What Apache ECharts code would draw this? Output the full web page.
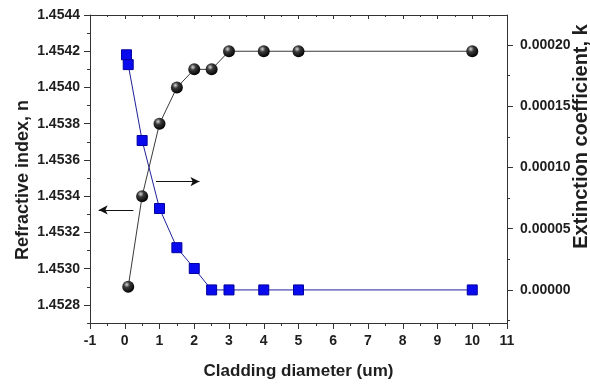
<!DOCTYPE html>
<html>
<head>
<meta charset="utf-8">
<script src="https://cdn.jsdelivr.net/npm/echarts@6/dist/echarts.min.js"></script>
<style>
html,body{margin:0;padding:0;background:#fff;}
#c{width:590px;height:386px;}
</style>
</head>
<body>
<div id="c"></div>
<script>
// Data
var nX = [0.1, 0.5, 1, 1.5, 2, 2.5, 3, 4, 5, 10];
var nValues = [1.4529, 1.4534, 1.4538, 1.4540, 1.4541, 1.4541, 1.4542, 1.4542, 1.4542, 1.4542];
var kX = [0.05, 0.1, 0.5, 1, 1.5, 2, 2.5, 3, 4, 5, 10];
var kValues = [0.000192, 0.000184, 0.000122, 0.0000665, 0.0000345, 0.0000175, 0, 0, 0, 0, 0];
var nTicks = [1.4528, 1.4530, 1.4532, 1.4534, 1.4536, 1.4538, 1.4540, 1.4542, 1.4544];
var nMinorTicks = [1.4527, 1.4529, 1.4531, 1.4533, 1.4535, 1.4537, 1.4539, 1.4541, 1.4543];
var kTicks = [0, 0.00005, 0.00010, 0.00015, 0.00020];
var kMinorTicks = [-0.000025, 0.000025, 0.000075, 0.000125, 0.000175];
var nArrow = [[0.25, 1.453324], [-0.75, 1.453324]];
var kArrow = [[0.9, 0.0000885], [2.15, 0.0000885]];

var FONT = 'Liberation Sans, Arial, sans-serif';
var TXT = '#1e1e1e';
var AX = '#333';

var chart = echarts.init(document.getElementById('c'));
var lblStyle = {color: TXT, fontFamily: FONT, fontWeight: 'bold', fontSize: 14};

function zip(a, b){ return a.map(function(v, i){ return [v, b[i]]; }); }

var option = {
  animation: false,
  backgroundColor: '#fff',
  grid: {left: 90, right: 83, top: 15, bottom: 63, containLabel: false, outerBoundsMode: 'none'},
  xAxis: [
    {
      type: 'value', position: 'bottom', min: -1, max: 11, interval: 1,
      name: 'Cladding diameter (um)', nameLocation: 'middle', nameGap: 40, nameMoveOverlap: false,
      nameTextStyle: {color: TXT, fontFamily: FONT, fontWeight: 'bold', fontSize: 17},
      axisLine: {show: true, onZero: false, lineStyle: {color: AX, width: 1}},
      axisTick: {show: true, inside: false, length: 6, lineStyle: {color: AX}},
      minorTick: {show: true, splitNumber: 2, length: 3, lineStyle: {color: AX}},
      axisLabel: Object.assign({margin: 11}, lblStyle),
      splitLine: {show: false}
    },
    {
      type: 'value', position: 'top', min: -1, max: 11, interval: 1,
      axisLine: {show: true, onZero: false, lineStyle: {color: AX, width: 1}},
      axisTick: {show: true, inside: true, length: 4, lineStyle: {color: AX}},
      minorTick: {show: true, splitNumber: 2, length: 2, lineStyle: {color: AX}},
      axisLabel: {show: false},
      splitLine: {show: false}
    }
  ],
  yAxis: [
    {
      type: 'value', position: 'left', min: 1.4527, max: 1.4544,
      name: 'Refractive index, n', nameLocation: 'middle', nameGap: 58, nameMoveOverlap: false,
      nameTextStyle: {color: TXT, fontFamily: FONT, fontWeight: 'bold', fontSize: 18, padding: [0, 22, 0, 0]},
      axisLine: {show: true, onZero: false, lineStyle: {color: AX, width: 1}},
      axisTick: {show: true, length: 6, customValues: nTicks, lineStyle: {color: AX}},
      axisLabel: Object.assign({customValues: nTicks, margin: 10, formatter: function(v){ return v.toFixed(4); }}, lblStyle),
      splitLine: {show: false}
    },
    {
      type: 'value', position: 'right', min: -0.000027, max: 0.0002245,
      name: 'Extinction coefficient, k', nameLocation: 'middle', nameGap: 64, nameMoveOverlap: false,
      nameTextStyle: {color: TXT, fontFamily: FONT, fontWeight: 'bold', fontSize: 20, padding: [0, 0, 0, 65]},
      axisLine: {show: true, onZero: false, lineStyle: {color: AX, width: 1}},
      axisTick: {show: true, length: 6, customValues: kTicks, lineStyle: {color: AX}},
      axisLabel: Object.assign({customValues: kTicks, margin: 13, formatter: function(v){ return v.toFixed(5); }}, lblStyle),
      splitLine: {show: false}
    },
    {
      type: 'value', position: 'left', min: 1.4527, max: 1.4544,
      axisLine: {show: false, onZero: false},
      axisTick: {show: true, length: 3, customValues: nMinorTicks, lineStyle: {color: AX}},
      axisLabel: {show: false},
      splitLine: {show: false}
    },
    {
      type: 'value', position: 'right', min: -0.000027, max: 0.0002245,
      axisLine: {show: false, onZero: false},
      axisTick: {show: true, length: 3, customValues: kMinorTicks, lineStyle: {color: AX}},
      axisLabel: {show: false},
      splitLine: {show: false}
    }
  ],
  series: [
    {
      type: 'line', name: 'n', xAxisIndex: 0, yAxisIndex: 0,
      data: zip(nX, nValues),
      symbol: 'circle', symbolSize: 12,
      lineStyle: {color: '#3a3a3a', width: 1},
      itemStyle: {
        color: new echarts.graphic.RadialGradient(0.38, 0.32, 0.7, [
          {offset: 0, color: '#d8d8d8'},
          {offset: 0.35, color: '#3a3a3a'},
          {offset: 1, color: '#000'}
        ]),
        borderWidth: 0
      },
      z: 3,
      markLine: {
        silent: true, symbol: ['none', 'arrow'], symbolSize: [7, 9],
        label: {show: false},
        lineStyle: {color: '#111', width: 1, type: 'solid'},
        data: [[{coord: nArrow[0]}, {coord: nArrow[1]}]]
      }
    },
    {
      type: 'line', name: 'k', xAxisIndex: 0, yAxisIndex: 1,
      data: zip(kX, kValues),
      symbol: 'rect', symbolSize: 10,
      lineStyle: {color: '#20209a', width: 1},
      itemStyle: {color: '#0a0aee', borderColor: '#0000a0', borderWidth: 1},
      z: 4,
      markLine: {
        silent: true, symbol: ['none', 'arrow'], symbolSize: [7, 9],
        label: {show: false},
        lineStyle: {color: '#111', width: 1, type: 'solid'},
        data: [[{coord: kArrow[0]}, {coord: kArrow[1]}]]
      }
    }
  ]
};
chart.setOption(option);
</script>
</body>
</html>
